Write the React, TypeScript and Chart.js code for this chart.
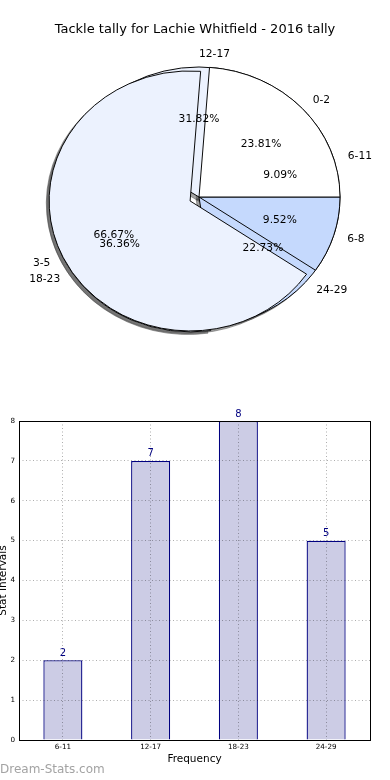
import React, { useEffect, useRef } from 'react';
import { Chart, registerables } from 'chart.js';

Chart.register(...registerables);

const FONT = '"DejaVu Sans", "Liberation Sans", sans-serif';

// ---------- pie data ----------
const pieTitle = 'Tackle tally for Lachie Whitfield - 2016 tally';
const topPieLabels = ['0-2', '3-5', '6-8'];
const topPieValues = [5, 14, 2];
const topPieExplode = [0, 0.07, 0];
const topPieColors = ['#ffffff', '#ecf2fe', '#c5d9fd'];

const backPieLabels = ['6-11', '12-17', '18-23', '24-29'];
const backPieValues = [2, 7, 8, 5];
const backPieExplode = [0, 0, 0.07, 0];
const backPieColors = ['#ffffff', '#ecf2fe', '#ecf2fe', '#c5d9fd'];

// ---------- bar data ----------
const barCategories = ['6-11', '12-17', '18-23', '24-29'];
const barValues = [2, 7, 8, 5];
const barYTicks = [0, 1, 2, 3, 4, 5, 6, 7, 8];
const xTitle = 'Frequency';
const yTitle = 'Stat Intervals';
const watermark = 'Dream-Stats.com';

// ---------- pie geometry / style ----------
const PIE_RADIUS = 141;
const PIE_YSCALE = 0.922;
const LABEL_DIST = 1.1;
const PCT_DIST = 0.6;
const SHADOW_SHIFT = 0.02;

const rev = <T,>(a: T[]): T[] => [...a].reverse();

const piePlugin = {
  id: 'mplPie',
  afterDatasetsUpdate(chart: any) {
    const a = chart.chartArea;
    const cx = (a.left + a.right) / 2;
    const cy = (a.top + a.bottom) / 2;
    chart.data.datasets.forEach((ds: any, d: number) => {
      const meta = chart.getDatasetMeta(d);
      meta.data.forEach((el: any, j: number) => {
        el.outerRadius = PIE_RADIUS;
        el.innerRadius = 0;
        const e = (ds.explode[j] || 0) * PIE_RADIUS;
        const mid = (el.startAngle + el.endAngle) / 2;
        el.x = cx + e * Math.cos(mid);
        el.y = cy + e * Math.sin(mid);
      });
    });
  },
  beforeDatasetsDraw(chart: any) {
    const { ctx, chartArea: a } = chart;
    const cx = (a.left + a.right) / 2;
    const cy = (a.top + a.bottom) / 2;
    ctx.save();
    ctx.translate(cx, cy);
    ctx.scale(1, PIE_YSCALE);
    ctx.translate(-cx, -cy);
    // shadows of every wedge, beneath all wedges
    const sh = SHADOW_SHIFT * PIE_RADIUS;
    ctx.save();
    ctx.translate(-sh, sh);
    ctx.fillStyle = 'rgba(72,72,72,0.5)';
    ctx.strokeStyle = 'rgba(72,72,72,0.5)';
    ctx.lineWidth = 1;
    chart.data.datasets.forEach((_ds: any, d: number) => {
      chart.getDatasetMeta(d).data.forEach((el: any) => {
        ctx.beginPath();
        ctx.moveTo(el.x, el.y);
        ctx.arc(el.x, el.y, el.outerRadius, el.startAngle, el.endAngle);
        ctx.closePath();
        ctx.fill();
        ctx.stroke();
      });
    });
    ctx.restore();
  },
  afterDatasetsDraw(chart: any) {
    chart.ctx.restore();
  },
  afterDraw(chart: any) {
    const { ctx, chartArea: a } = chart;
    const cy = (a.top + a.bottom) / 2;
    ctx.save();
    ctx.fillStyle = '#000';
    ctx.font = `10.7px ${FONT}`;
    ctx.textBaseline = 'middle';
    chart.data.datasets.forEach((ds: any, d: number) => {
      const meta = chart.getDatasetMeta(d);
      const total = ds.data.reduce((s: number, v: number) => s + v, 0);
      meta.data.forEach((el: any, j: number) => {
        const mid = (el.startAngle + el.endAngle) / 2;
        const c = Math.cos(mid);
        const s = Math.sin(mid);
        const R = el.outerRadius;
        const lx = el.x + LABEL_DIST * R * c;
        const ly = cy + (el.y + LABEL_DIST * R * s - cy) * PIE_YSCALE;
        ctx.textAlign = c > -1e-9 ? 'left' : 'right';
        ctx.fillText(ds.sliceLabels[j], lx, ly);
        const px = el.x + PCT_DIST * R * c;
        const py = cy + (el.y + PCT_DIST * R * s - cy) * PIE_YSCALE;
        ctx.textAlign = 'center';
        ctx.fillText(((ds.data[j] / total) * 100).toFixed(2) + '%', px, py);
      });
    });
    ctx.font = `13px ${FONT}`;
    ctx.textAlign = 'center';
    ctx.fillText(pieTitle, chart.width / 2, 30);
    ctx.restore();
  },
};

const barPlugin = {
  id: 'mplBar',
  afterDraw(chart: any) {
    const { ctx, chartArea: a } = chart;
    ctx.save();
    ctx.strokeStyle = '#000';
    ctx.lineWidth = 1;
    ctx.strokeRect(
      Math.round(a.left) + 0.5,
      Math.round(a.top) + 0.5,
      Math.round(a.right) - Math.round(a.left),
      Math.round(a.bottom) - Math.round(a.top)
    );
    const meta = chart.getDatasetMeta(0);
    ctx.fillStyle = '#000080';
    ctx.font = `10px ${FONT}`;
    ctx.textAlign = 'center';
    ctx.textBaseline = 'bottom';
    meta.data.forEach((el: any, i: number) => {
      ctx.fillText(String(chart.data.datasets[0].data[i]), el.x, el.y - 2);
    });
    ctx.fillStyle = '#a3a3a3';
    ctx.font = `12px ${FONT}`;
    ctx.textAlign = 'left';
    ctx.textBaseline = 'middle';
    ctx.fillText(watermark, 0, chart.height - 10);
    ctx.restore();
  },
};

function pieConfig(): any {
  const common = { borderColor: '#000', borderWidth: 1, borderJoinStyle: 'miter', hoverOffset: 0, clip: false };
  return {
    type: 'pie',
    data: {
      labels: rev(topPieLabels),
      datasets: [
        {
          ...common,
          data: rev(topPieValues),
          backgroundColor: rev(topPieColors),
          sliceLabels: rev(topPieLabels),
          explode: rev(topPieExplode),
        },
        {
          ...common,
          data: rev(backPieValues),
          backgroundColor: rev(backPieColors),
          sliceLabels: rev(backPieLabels),
          explode: rev(backPieExplode),
        },
      ],
    },
    options: {
      responsive: false,
      animation: false,
      events: [],
      rotation: 90,
      radius: PIE_RADIUS,
      layout: { padding: { top: 40, bottom: 36, left: 30, right: 22 } },
      plugins: { legend: { display: false }, tooltip: { enabled: false }, title: { display: false } },
    },
    plugins: [piePlugin],
  };
}

function barConfig(): any {
  const gridLine = { color: 'rgba(0,0,0,0.4)', lineWidth: 0.8, drawTicks: false, z: 1 };
  return {
    type: 'bar',
    data: {
      labels: barCategories,
      datasets: [
        {
          data: barValues,
          backgroundColor: '#ccccE5',
          borderColor: '#000080',
          borderWidth: 1.3,
          categoryPercentage: 1,
          barPercentage: 0.445,
        },
      ],
    },
    options: {
      responsive: false,
      animation: false,
      events: [],
      layout: { padding: { top: 31, right: 20, left: 0, bottom: 0 } },
      plugins: { legend: { display: false }, tooltip: { enabled: false } },
      scales: {
        x: {
          grid: { ...gridLine, offset: false },
          border: { display: false, dash: [1, 2.5] },
          ticks: { font: { family: FONT, size: 7.2 }, color: '#000', padding: 3, maxRotation: 0, autoSkip: false },
          title: { display: true, text: xTitle, font: { family: FONT, size: 10.5 }, color: '#000', padding: { top: 0, bottom: 14 } },
          afterFit: (s: any) => { s.height = 40; },
        },
        y: {
          min: 0,
          max: 8,
          grid: gridLine,
          border: { display: false, dash: [1, 2.5] },
          afterBuildTicks: (s: any) => { s.ticks = barYTicks.map((v) => ({ value: v })); },
          ticks: { font: { family: FONT, size: 7.2 }, color: '#000', padding: 4 },
          title: { display: true, text: yTitle, font: { family: FONT, size: 10.5 }, color: '#000', padding: { top: -3, bottom: 0 } },
          afterFit: (s: any) => { s.width = 19; },
        },
      },
    },
    plugins: [barPlugin],
  };
}

export default function App() {
  const pieRef = useRef<HTMLCanvasElement>(null);
  const barRef = useRef<HTMLCanvasElement>(null);
  useEffect(() => {
    const pie = new Chart(pieRef.current as HTMLCanvasElement, pieConfig());
    const bar = new Chart(barRef.current as HTMLCanvasElement, barConfig());
    return () => {
      pie.destroy();
      bar.destroy();
    };
  }, []);
  return (
    <div style={{ position: 'absolute', left: 0, top: 0, width: 390, height: 780, background: '#fff', overflow: 'hidden' }}>
      <canvas ref={pieRef} width={390} height={390} style={{ position: 'absolute', left: 0, top: 0, width: 390, height: 390 }} />
      <canvas ref={barRef} width={390} height={390} style={{ position: 'absolute', left: 0, top: 390, width: 390, height: 390 }} />
    </div>
  );
}
